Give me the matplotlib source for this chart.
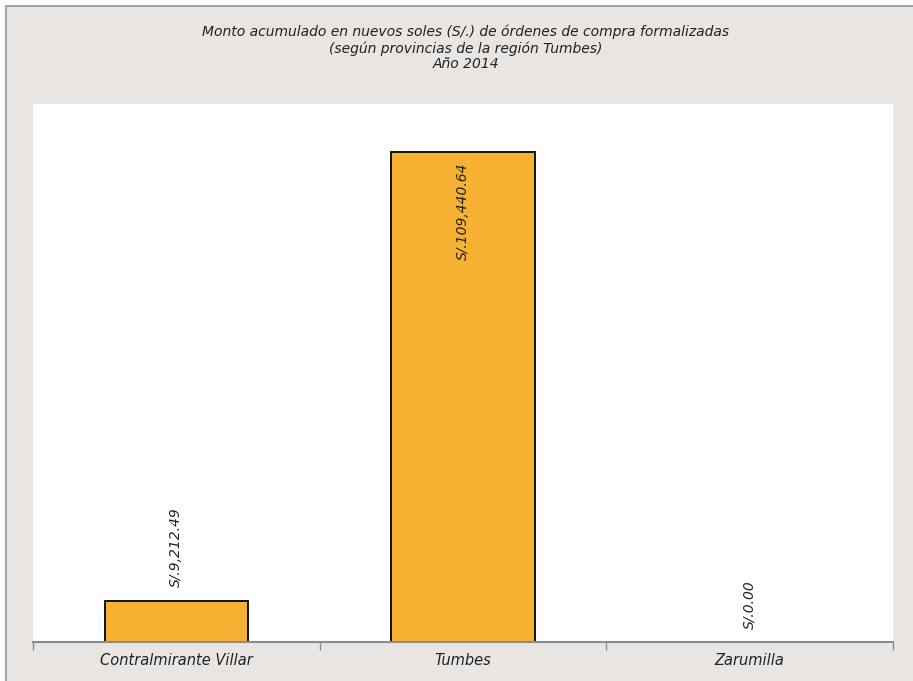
import matplotlib.pyplot as plt
from matplotlib.patches import Rectangle

# --- Dados ---
provincias = ['Contralmirante Villar', 'Tumbes', 'Zarumilla']
montos = [9212.49, 109440.64, 0.00]
rotulos = ['S/.9,212.49', 'S/.109,440.64', 'S/.0.00']

W, H = 913, 681
fig = plt.figure(figsize=(W / 100, H / 100), dpi=100)
fig.patch.set_facecolor('white')

# fundo com borda
fig.patches.append(Rectangle((6 / W, -0.01), 1.0, 1 - 6 / H + 0.01, transform=fig.transFigure,
                             facecolor='#E9E5E2', edgecolor='#A6A6A6', linewidth=1.5, zorder=-10))

ax = fig.add_axes([33 / W, 1 - 642 / H, (893 - 33) / W, (642 - 104) / H])
ax.set_facecolor('white')

x = range(len(provincias))
ax.bar(x, montos, width=0.5, color='#F7B133', edgecolor='black', linewidth=1.3, zorder=2)

ax.set_xlim(-0.5, 2.5)
ax.set_ylim(0, 120200)

fonte = 'DejaVu Sans'
for i, (v, r) in enumerate(zip(montos, rotulos)):
    if v > 60000:
        ax.text(i, v - 0.02 * 120200, r, rotation=90, ha='center', va='top',
                fontsize=10, style='italic', family=fonte, color='#222222')
    else:
        ax.text(i, v + 0.025 * 120200, r, rotation=90, ha='center', va='bottom',
                fontsize=10, style='italic', family=fonte, color='#222222')

ax.set_yticks([])
ax.set_xticks([-0.5, 0.5, 1.5, 2.5])
ax.set_xticklabels([])
ax.tick_params(axis='x', length=6, color='#8C8C8C', width=1)
for i, p in enumerate(provincias):
    ax.text(i, -0.035 * 120200, p, ha='center', va='center', fontsize=10.5,
            style='italic', family=fonte, color='#222222')

for s in ['top', 'right', 'left']:
    ax.spines[s].set_visible(False)
ax.spines['bottom'].set_color('#8C8C8C')
ax.spines['bottom'].set_linewidth(1.5)

titulo = ('Monto acumulado en nuevos soles (S/.) de órdenes de compra formalizadas\n'
          '(según provincias de la región Tumbes)\nAño 2014')
fig.text(466 / W, 1 - 48 / H, titulo, ha='center', va='center', fontsize=10,
         style='italic', family=fonte, color='#222222', linespacing=1.15)

fig.savefig('out.png', dpi=100)
